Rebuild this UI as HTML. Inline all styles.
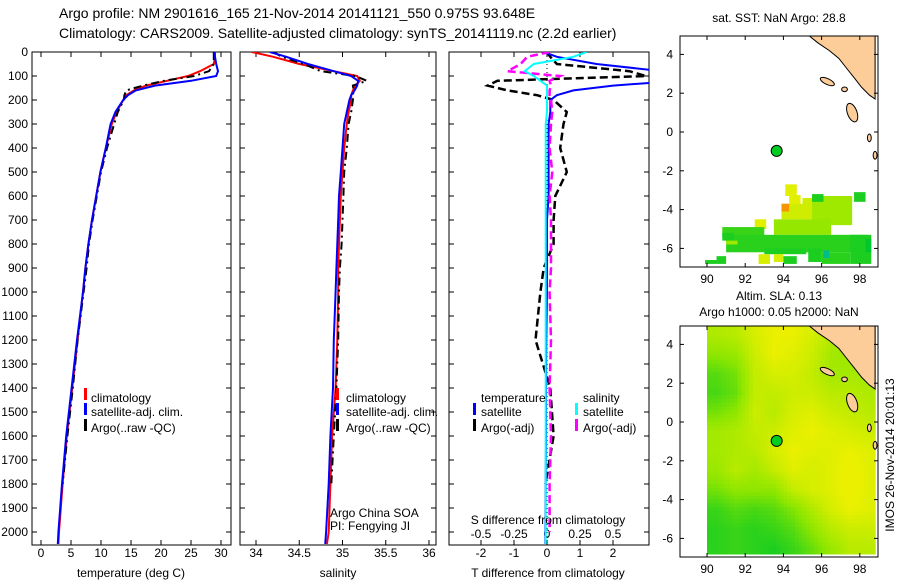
<!DOCTYPE html>
<html><head><meta charset="utf-8">
<style>
html,body{margin:0;padding:0;background:#fff;}
svg{display:block;font-family:"Liberation Sans",sans-serif;}
text{font-size:12px;fill:#000;}
</style></head>
<body>
<svg id="fig" width="900" height="580" viewBox="0 0 900 580">
<defs>
<clipPath id="c1"><rect x="32" y="52" width="199" height="493"/></clipPath>
<clipPath id="c2"><rect x="240" y="52" width="196" height="493"/></clipPath>
<clipPath id="c3"><rect x="449" y="52" width="200" height="493"/></clipPath>
<clipPath id="cm1"><rect x="680" y="36" width="198" height="231"/></clipPath>
<clipPath id="cm2"><rect x="680" y="326" width="198" height="231"/></clipPath>
</defs>
<text x="59" y="18" style="font-size:14px">Argo profile: NM 2901616_165 21-Nov-2014 20141121_550 0.975S 93.648E</text>
<text x="59" y="38" style="font-size:14px">Climatology: CARS2009. Satellite-adjusted climatology: synTS_20141119.nc (2.2d earlier)</text>
<g id="g"></g>
</svg>
<script>
// ---------- data ----------
const depths = [0,20,50,80,100,120,140,160,180,200,250,300,400,500,600,700,800,900,1000,1200,1400,1600,1800,2000,2050];
const tempClim = [29.0,29.0,28.8,26.5,24.5,21,17.5,15.5,14.2,13.7,12.6,11.8,10.8,9.9,9.2,8.5,7.9,7.4,7.0,6.1,5.2,4.3,3.6,3.0,2.9];
const tempSat  = [28.9,29.0,29.2,29.5,29.2,25,19,15.8,14.5,13.7,12.4,11.6,10.8,9.9,9.2,8.5,7.9,7.4,7.0,6.0,5.1,4.2,3.5,2.9,2.8];
const tempArgo = [28.8,28.8,28.8,28.0,25.5,20.5,17,14.2,13.9,13.8,12.8,12.2,11.0,10.0,9.3,8.6,8.0,7.6,7.1,6.1,5.3,4.4,3.6,null,null];
const salClim = [33.95,34.2,34.5,34.9,35.17,35.2,35.15,35.12,35.1,35.1,35.07,35.05,35.02,35.0,34.98,34.97,34.96,34.95,34.95,34.94,34.92,34.88,34.86,34.84,34.82];
const salSat  = [34.16,34.35,34.6,34.9,35.1,35.18,35.17,35.14,35.1,35.08,35.05,35.02,35.0,34.98,34.96,34.95,34.94,34.93,34.92,34.9,34.89,34.86,34.84,34.81,34.8];
const salArgo = [34.2,34.3,34.55,34.75,35.15,35.28,35.12,35.13,35.12,35.12,35.1,35.07,35.05,35.02,35.01,35.0,34.99,34.97,34.96,34.95,34.93,34.9,34.87,null,null];
const dTsat  = [-0.1,0.3,1.5,3.5,5,4,2,0.8,0.3,0.1,0.1,0.05,0.05,0.05,0.05,0.0,0.0,0.0,0.0,-0.02,-0.03,-0.03,-0.04,-0.05,-0.05];
const dTargo = [0,0.1,0.3,2.5,3,-1.5,-1.8,-1.2,-0.3,0.2,0.6,0.5,0.4,0.6,0.25,0.2,0.2,-0.1,-0.2,-0.35,0.1,0.2,-0.05,null,null];
const dSsat  = [0.3,0.2,-0.1,-0.17,-0.1,-0.05,0,0,0,0,0,-0.01,-0.01,-0.01,-0.01,-0.01,-0.01,-0.01,-0.01,-0.01,-0.01,-0.01,-0.01,-0.01,-0.01];
const dSargo = [0.02,-0.15,-0.2,-0.3,0.1,0.02,0.03,0.02,0.02,0.03,0.04,0.03,0.02,0.04,0.02,0.03,0.03,0.03,0.02,0.03,0.02,0.03,0.02,0.02,null];
const depthTicks = [0,100,200,300,400,500,600,700,800,900,1000,1100,1200,1300,1400,1500,1600,1700,1800,1900,2000];
const tempTicks = [0,5,10,15,20,25,30];
const salTicks = [34,34.5,35,35.5,36];
const dTTicks = [-2,-1,0,1,2];
const dSTicks = [-0.5,-0.25,0,0.25,0.5];
const lonTicks = [90,92,94,96,98];
const latTicks = [4,2,0,-2,-4,-6];
const argoLon = 93.648, argoLat = -0.975;
// SST patches: lon0, lon1, latTop, latBottom, value (0 green .. 1 yellow, >1 orange, <0 blue)
const sstPatches = [
 [94.1,94.7,-2.7,-3.3,0.95],[94.3,94.9,-3.25,-3.75,0.95],[93.9,96.0,-3.7,-4.5,0.85],[95.0,95.5,-3.4,-3.8,0.85],
 [95.5,97.6,-3.3,-4.8,0.6],[95.5,96.1,-3.2,-3.6,0.1],[97.7,98.3,-3.1,-3.6,0.1],[93.9,94.3,-3.7,-4.1,1.3],
 [92.5,93.1,-4.5,-5.0,0.95],[93.5,96.5,-4.5,-5.3,0.55],[90.8,93.0,-4.9,-5.4,0.2],[91.0,98.4,-5.3,-6.2,0.15],
 [90.8,91.4,-5.2,-5.6,0.1],[91.0,91.6,-5.6,-5.8,0.6],[93.0,95.2,-6.0,-6.3,0.1],[92.7,93.3,-6.3,-6.8,0.9],
 [93.5,94.0,-6.3,-6.7,0.9],[94.0,94.7,-6.4,-6.8,0.1],[95.3,96.0,-6.0,-6.7,0.1],[96.0,97.5,-6.2,-6.8,0.15],
 [97.5,98.6,-5.3,-6.8,0.1],[96.1,96.4,-6.1,-6.5,-0.6],[98.3,98.6,-5.5,-6.2,-0.2],[90.5,91.0,-6.4,-6.8,0.1],[89.9,90.5,-6.6,-6.8,0.1]
];
// SLA grid: rows lat 4.5..-6.5, cols lon 90.5..98.5
const slaGrid = [
 [0.55,0.6,0.75,0.85,0.85,0.75,0.6,0.5,0.4],
 [0.4,0.45,0.7,0.85,0.8,0.7,0.5,0.45,0.4],
 [0.2,0.3,0.65,0.75,0.75,0.65,0.5,0.5,0.5],
 [0.15,0.25,0.65,0.65,0.7,0.7,0.6,0.6,0.55],
 [0.3,0.4,0.7,0.6,0.75,0.8,0.7,0.65,0.6],
 [0.5,0.55,0.65,0.7,0.8,0.85,0.8,0.75,0.7],
 [0.5,0.55,0.6,0.75,0.85,0.8,0.8,0.85,0.8],
 [0.45,0.6,0.5,0.65,0.8,0.75,0.8,0.9,0.8],
 [0.3,0.4,0.4,0.4,0.65,0.75,0.8,0.9,0.8],
 [0.1,0.2,0.15,0.2,0.35,0.55,0.75,0.85,0.8],
 [0.05,0.1,0.05,0.1,0.2,0.4,0.6,0.7,0.7],
 [0.05,0.1,0.05,0.0,0.1,0.25,0.45,0.6,0.6]
];
const coast = [[95.3,5],[95.8,4.6],[96.4,4.2],[96.9,3.8],[97.3,3.3],[97.7,2.8],[98.1,2.3],[98.5,1.9],[98.8,1.7],[98.8,5]];
const islands = [[96.3,2.6,0.4,0.15,25],[97.2,2.2,0.15,0.12,0],[97.6,1.0,0.25,0.5,-20],[98.5,-0.3,0.1,0.2,0],[98.8,-1.2,0.1,0.2,0]];

// ---------- helpers ----------
const NS='http://www.w3.org/2000/svg';
const G=document.getElementById('g');
function mk(tag,attrs,parent){const e=document.createElementNS(NS,tag);for(const k in attrs)e.setAttribute(k,attrs[k]);(parent||G).appendChild(e);return e;}
const PT=52, PB=545;
const yD = d => PT + d*0.24;
function colorOf(v){
  let r,g,b;
  if(v<0){const t=Math.min(1,-v);r=0;g=Math.round(205-30*t);b=Math.round(230*t);}
  else if(v<=0.5){const t=v/0.5;r=Math.round(140*t);g=Math.round(200+30*t);b=Math.round(40*(1-t));}
  else if(v<=1){const t=(v-0.5)/0.5;r=Math.round(140+95*t);g=Math.round(230+10*t);b=0;}
  else{const t=Math.min(1,(v-1)/0.3);r=Math.round(235+10*t);g=Math.round(240-90*t);b=0;}
  return `rgb(${r},${g},${b})`;
}
function pathFrom(xs,xf,clip,color,dash,w,name){
  let d='',pen=false;
  for(let i=0;i<depths.length;i++){
    const v=xs[i]; if(v===null){pen=false;continue;}
    d+=(pen?'L':'M')+xf(v).toFixed(1)+','+yD(depths[i]).toFixed(1);pen=true;
  }
  const p=mk('path',{d:d,fill:'none',stroke:color,'stroke-width':w,'clip-path':`url(#${clip})`});
  if(dash)p.setAttribute('stroke-dasharray',dash);
  
  
  return p;
}
function frame(x0,x1,name){
  const r=mk('rect',{x:x0,y:PT,width:x1-x0,height:PB-PT,fill:'none',stroke:'#000','stroke-width':1});
  
  
}
function xticks(ticks,xf,y0,y1,labelY,name){
  ticks.forEach(t=>{
    const x=xf(t);
    mk('line',{x1:x,x2:x,y1:y1,y2:y1-5,stroke:'#000'});
    mk('line',{x1:x,x2:x,y1:y0,y2:y0+5,stroke:'#000'});
    if(labelY){const tx=mk('text',{x:x,y:labelY,'text-anchor':'middle'});tx.textContent=String(t);
      
      }
  });
}
function yticks(x0,x1){
  depthTicks.forEach(d=>{const y=yD(d);
    mk('line',{x1:x0,x2:x0+5,y1:y,y2:y,stroke:'#000'});
    mk('line',{x1:x1,x2:x1-5,y1:y,y2:y,stroke:'#000'});});
}
function label(x,y,s,name,anchor){const t=mk('text',{x:x,y:y,'text-anchor':anchor||'start'});t.textContent=s;
  
  return t;}
function legendBar(x,y,color){mk('rect',{x:x,y:y-10,width:3,height:12,fill:color});}

// ---------- panel 1: temperature ----------
const xT = t => 41 + 6*t;
frame(32,231,'temperature-plot-frame');
yticks(32,231);
xticks(tempTicks,xT,PT,PB,557,'temperature-tick-label');
depthTicks.forEach(d=>label(28,yD(d)+4,String(d),'depth-tick-label','end'));
pathFrom(tempClim,xT,'c1','#f00',null,2,'temp-climatology-line');
pathFrom(tempArgo,xT,'c1','#000','8,4,2,4',2,'temp-argo-line');
pathFrom(tempSat,xT,'c1','#00f',null,2,'temp-satellite-line');
legendBar(84,398,'#f00');label(91,402,'climatology','legend-climatology');
legendBar(84,413,'#00f');label(91,416,'satellite-adj. clim.','legend-satellite');
legendBar(84,429,'#000');label(91,432,'Argo(..raw -QC)','legend-argo');
label(131,577,'temperature (deg C)','temperature-axis-title','middle');

// ---------- panel 2: salinity ----------
const xS = s => 256 + 86.5*(s-34);
frame(240,436,'salinity-plot-frame');
yticks(240,436);
xticks(salTicks,xS,PT,PB,557,'salinity-tick-label');
pathFrom(salClim,xS,'c2','#f00',null,2,'sal-climatology-line');
pathFrom(salArgo,xS,'c2','#000','8,4,2,4',2,'sal-argo-line');
pathFrom(salSat,xS,'c2','#00f',null,2,'sal-satellite-line');
legendBar(336,398,'#f00');label(346,402,'climatology','legend-climatology-2');
legendBar(336,413,'#00f');label(346,416,'satellite-adj. clim.','legend-satellite-2');
legendBar(336,429,'#000');label(346,432,'Argo(..raw -QC)','legend-argo-2');
label(330,517,'Argo China SOA','argo-institution');
label(330,530,'PI: Fengying JI','argo-pi');
label(338,577,'salinity','salinity-axis-title','middle');

// ---------- panel 3: differences ----------
const xdT = d => 547 + 33*d;
const xdS = d => 547 + 132*d;
frame(449,649,'difference-plot-frame');
yticks(449,649);
xticks(dTTicks,xdT,PT,PB,557,'t-diff-tick-label');
dSTicks.forEach(t=>label(xdS(t),538,String(t),'s-diff-tick-label','middle'));
mk('line',{x1:547,x2:547,y1:PT,y2:PB,stroke:'#000','stroke-dasharray':'1,3'});
pathFrom(dTargo,xdT,'c3','#000','8,4',2.5,'t-diff-argo-line');
pathFrom(dTsat,xdT,'c3','#00f',null,2,'t-diff-satellite-line');
pathFrom(dSargo,xdS,'c3','#f0f','8,4',2.5,'s-diff-argo-line');
pathFrom(dSsat,xdS,'c3','#0ff',null,2,'s-diff-satellite-line');
label(481,402,'temperature','legend-temperature-header');
label(583,402,'salinity','legend-salinity-header');
legendBar(473,413,'#00f');label(481,416,'satellite','legend-t-satellite');
legendBar(473,429,'#000');label(481,432,'Argo(-adj)','legend-t-argo');
legendBar(575,413,'#0ff');label(583,416,'satellite','legend-s-satellite');
legendBar(575,429,'#f0f');label(583,432,'Argo(-adj)','legend-s-argo');
label(548,524,'S difference from climatology','s-diff-axis-title','middle');
label(548,577,'T difference from climatology','t-diff-axis-title','middle');

// ---------- maps ----------
const lonX = lon => 707 + (lon-90)*19.1;
function mapFrame(y0){
  const yTop=y0-96, yBot=y0+135;
  const latY = lat => y0 - lat*19.4;
  return {latY,yTop,yBot};
}
function drawLand(latY,clip){
  const pts=coast.map(p=>lonX(p[0]).toFixed(1)+','+latY(p[1]).toFixed(1)).join(' ');
  const pl=mk('polygon',{points:pts,fill:'#fccc99',stroke:'#000','stroke-width':1,'clip-path':`url(#${clip})`});
  
  
  islands.forEach(is=>{
    const cx=lonX(is[0]),cy=latY(is[1]);
    const e=mk('ellipse',{cx:cx,cy:cy,rx:is[2]*19.1,ry:is[3]*19.4,fill:'#fccc99',stroke:'#000','stroke-width':1,transform:`rotate(${is[4]} ${cx} ${cy})`,'clip-path':`url(#${clip})`});
    
    
  });
}
function mapAxes(latY,yTop,yBot,labelY,name){
  const r=mk('rect',{x:680,y:yTop,width:198,height:yBot-yTop,fill:'none',stroke:'#000'});
  
  
  lonTicks.forEach(l=>{const x=lonX(l);
    mk('line',{x1:x,x2:x,y1:yBot,y2:yBot-4,stroke:'#000'});mk('line',{x1:x,x2:x,y1:yTop,y2:yTop+4,stroke:'#000'});
    label(x,labelY,String(l),'lon-tick-label','middle');});
  latTicks.forEach(l=>{const y=latY(l);
    mk('line',{x1:680,x2:684,y1:y,y2:y,stroke:'#000'});mk('line',{x1:878,x2:874,y1:y,y2:y,stroke:'#000'});
    label(673,y+4,String(l),'lat-tick-label','end');});
}
function argoDot(latY,name){
  const c=mk('circle',{cx:lonX(argoLon),cy:latY(argoLat),r:5.5,fill:'#00cc22',stroke:'#000','stroke-width':1});
  
  
}
// SST map
(function(){
  const m=mapFrame(132); const latY=m.latY;
  sstPatches.forEach(p=>{
    const r=mk('rect',{x:lonX(p[0]),y:latY(p[2]),width:(p[1]-p[0])*19.1,height:(p[2]-p[3])*19.4,fill:colorOf(p[4]),'clip-path':'url(#cm1)'});
    
    
  });
  drawLand(latY,'cm1');
  argoDot(latY,'argo-location-sst');
  mapAxes(latY,m.yTop,m.yBot,283,'sst-map-frame');
  label(779,22,'sat. SST: NaN Argo: 28.8','sst-map-title','middle');
})();
// SLA map
(function(){
  const m=mapFrame(422); const latY=m.latY;
  const rows=slaGrid.length, cols=slaGrid[0].length, step=0.2;
  function val(lat,lon){
    let fr=(4.5-lat), fc=(lon-90.5);
    fr=Math.max(0,Math.min(rows-1,fr)); fc=Math.max(0,Math.min(cols-1,fc));
    const r0=Math.floor(fr),c0=Math.floor(fc),r1=Math.min(rows-1,r0+1),c1=Math.min(cols-1,c0+1);
    const a=fr-r0,b=fc-c0;
    return slaGrid[r0][c0]*(1-a)*(1-b)+slaGrid[r0][c1]*(1-a)*b+slaGrid[r1][c0]*a*(1-b)+slaGrid[r1][c1]*a*b;
  }
  for(let lat=5;lat>-6.8;lat-=step){
    for(let lon=90;lon<98.8;lon+=step){
      const v=val(lat-step/2,lon+step/2);
      const r=mk('rect',{x:lonX(lon).toFixed(1),y:latY(lat).toFixed(1),width:(step*19.1+0.6).toFixed(1),height:(step*19.4+0.6).toFixed(1),fill:colorOf(Math.min(1,v*1.05+0.1)),'clip-path':'url(#cm2)'});
      
      
    }
  }
  drawLand(latY,'cm2');
  argoDot(latY,'argo-location-sla');
  mapAxes(latY,m.yTop,m.yBot,573,'sla-map-frame');
  label(779,300,'Altim. SLA: 0.13','sla-map-title','middle');
  label(779,316,'Argo h1000: 0.05 h2000: NaN','sla-map-subtitle','middle');
})();
const stamp=label(0,0,'IMOS 26-Nov-2014 20:01:13','imos-timestamp','middle');
stamp.setAttribute('transform','translate(894,455) rotate(-90)');
</script>
</body></html>
